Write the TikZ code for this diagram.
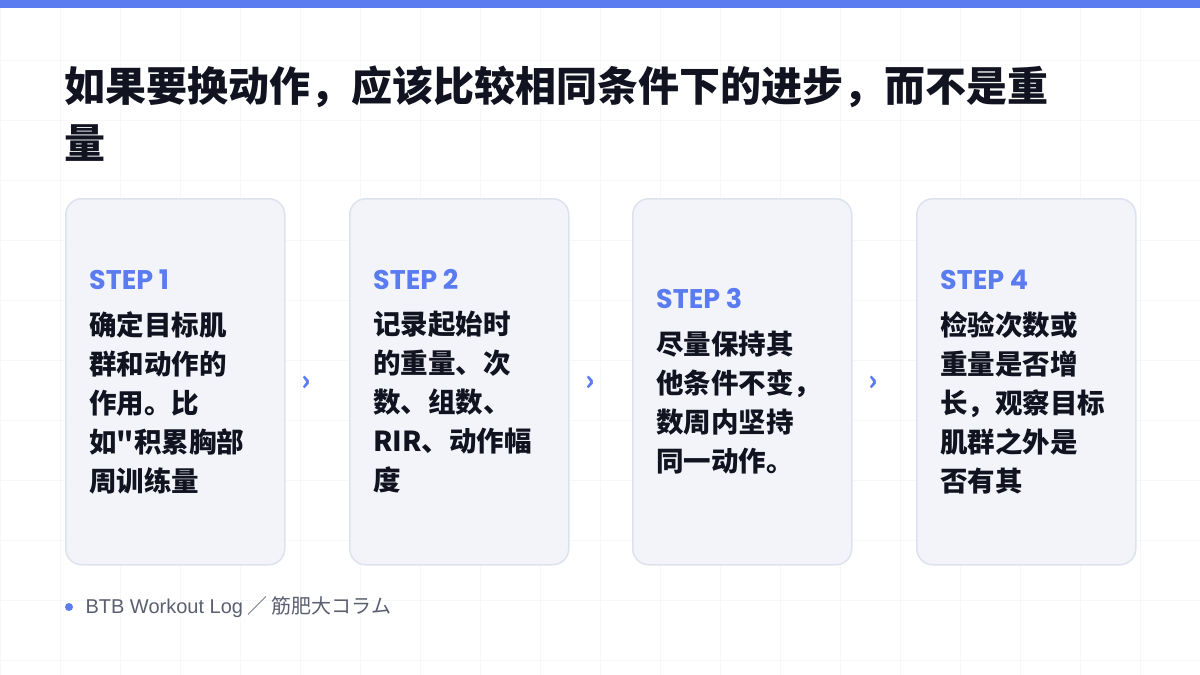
\documentclass[tikz,border=0pt]{standalone}
\usepackage{fontspec}
\setmainfont{Noto Sans CJK SC}
\newfontfamily\cjk[BoldFont={Noto Sans CJK SC Black}]{Noto Sans CJK SC}
\newfontfamily\latin{Liberation Sans}
\newfontfamily\steplatin{Poppins}
\definecolor{stepblue}{HTML}{5B7CF0}
\definecolor{cardfill}{HTML}{F3F4FA}
\definecolor{cardline}{HTML}{DDE2EE}
\definecolor{inkdark}{HTML}{111420}
\definecolor{footgray}{HTML}{5A6070}
\definecolor{gridline}{HTML}{F6F7F9}

\begin{document}
\begin{tikzpicture}[x=1pt,y=-1pt,
  card/.style={rectangle,rounded corners=16pt,fill=cardfill,draw=cardline,line width=1.5pt,
    minimum width=219pt,minimum height=366pt,anchor=north west},
  step label/.style={anchor=west,inner sep=0pt,text=stepblue,font=\steplatin\bfseries\fontsize{27}{30}\selectfont},
  body text/.style={anchor=north west,text=inkdark,align=left,inner sep=0pt,
    font=\cjk\bfseries\fontsize{27.5}{39}\selectfont},
  chevron/.style={text=stepblue,font=\cjk\bfseries\fontsize{28}{28}\selectfont}]

  \useasboundingbox (0,0) rectangle (1200,675);
  \fill[white] (0,0) rectangle (1200,675);
  \foreach \gx in {0,60,...,1200} \draw[gridline] (\gx,8) -- (\gx,675);
  \foreach \gy in {60,120,...,660} \draw[gridline] (0,\gy) -- (1200,\gy);
  \fill[stepblue] (0,0) rectangle (1200,8);

  \node[anchor=west,inner sep=0pt,text=inkdark,font=\cjk\bfseries\fontsize{41}{44}\selectfont] (title1) at (64,87)
    {如果要换动作，应该比较相同条件下的进步，而不是重};
  \node[anchor=west,inner sep=0pt,text=inkdark,font=\cjk\bfseries\fontsize{41}{44}\selectfont] (title2) at (64,143) {量};

  \node[card] (c1) at (65,198) {};
  \node[card] (c2) at (349,198) {};
  \node[card] (c3) at (632,198) {};
  \node[card] (c4) at (916,198) {};

  \node[step label] (s1) at (89,280) {STEP 1};
  \node[step label] (s2) at (373,280) {STEP 2};
  \node[step label] (s3) at (656,299) {STEP 3};
  \node[step label] (s4) at (940,280) {STEP 4};

  \node[body text] (t1) at (89,311) {确定目标肌\\群和动作的\\作用。比\\如"积累胸部\\周训练量};
  \node[body text] (t2) at (373,311) {记录起始时\\的重量、次\\数、组数、\\RIR、动作幅\\度};
  \node[body text] (t3) at (656,331) {尽量保持其\\他条件不变，\\数周内坚持\\同一动作。};
  \node[body text] (t4) at (940,311) {检验次数或\\重量是否增\\长，观察目标\\肌群之外是\\否有其};

  \node[chevron] (a1) at (306,383) {›};
  \node[chevron] (a2) at (590,383) {›};
  \node[chevron] (a3) at (873,383) {›};

  \fill[stepblue] (69,607) circle (4pt);
  \node[anchor=west,text=footgray,font=\fontsize{20}{22}\selectfont] (foot) at (82,607)
    {{\latin BTB Workout Log} ／ 筋肥大コラム};
\end{tikzpicture}
\end{document}
